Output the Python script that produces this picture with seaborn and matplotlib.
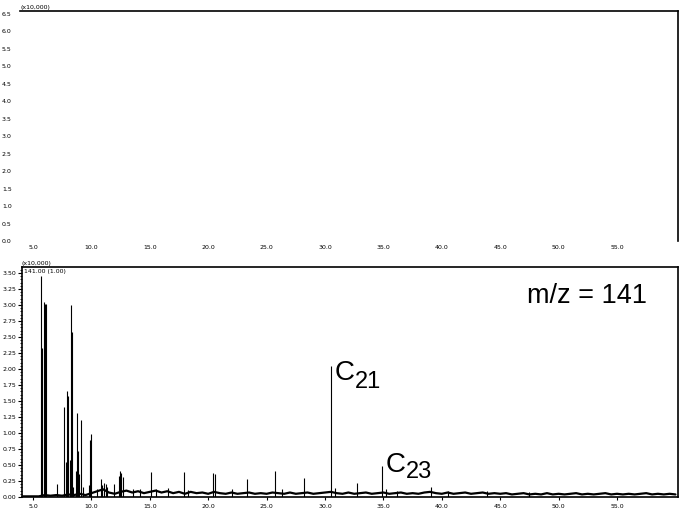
import numpy as np
import seaborn as sns
import matplotlib
matplotlib.use("Agg")
import matplotlib.pyplot as plt
from matplotlib.ticker import MultipleLocator, FormatStrFormatter

# retention time (min) and intensity (x10,000) of the resolved peaks, m/z = 141
peak_times = [5.69, 5.78, 5.98, 6.04, 6.10, 7.02, 7.68, 7.80, 7.94, 8.03,
              8.17, 8.26, 8.37, 8.46, 8.69, 8.78, 8.86, 8.98, 9.15, 9.27,
              9.78, 9.84, 9.93, 10.45, 10.82, 10.95, 11.10, 11.22, 11.35, 11.90,
              12.35, 12.45, 12.55, 12.67, 13.6, 14.2, 15.14, 15.5, 16.6, 17.91,
              18.3, 20.43, 20.60, 22.0, 23.29, 25.71, 26.3, 28.22, 30.50, 30.85,
              32.78, 34.88, 35.2, 36.2, 39.05, 40.5, 43.86, 47.5]
peak_heights = [3.46, 2.33, 3.04, 3.02, 3.01, 0.20, 1.40, 0.55, 1.66, 1.58,
                0.58, 3.00, 2.58, 0.15, 0.40, 1.31, 0.72, 0.36, 1.21, 0.15,
                0.19, 0.89, 0.99, 0.12, 0.28, 0.18, 0.22, 0.20, 0.16, 0.20,
                0.33, 0.40, 0.38, 0.32, 0.12, 0.12, 0.39, 0.12, 0.14, 0.39,
                0.11, 0.37, 0.36, 0.12, 0.28, 0.41, 0.12, 0.30, 2.05, 0.14,
                0.22, 0.48, 0.12, 0.10, 0.16, 0.10, 0.10, 0.08]

# baseline trace, 4.0 to 60.0 min every 0.5 min
baseline_y = [0.01, 0.01, 0.01, 0.01,
              0.03, 0.02, 0.03, 0.02, 0.04, 0.03, 0.05, 0.03,
              0.06, 0.09, 0.12, 0.07, 0.05, 0.08, 0.10, 0.07, 0.09, 0.06,
              0.08, 0.10, 0.07, 0.09, 0.06, 0.08, 0.05, 0.08, 0.06, 0.07,
              0.05, 0.08, 0.06, 0.05, 0.07, 0.05, 0.06, 0.07, 0.05, 0.06,
              0.05, 0.07, 0.06, 0.05, 0.07, 0.05, 0.06, 0.07, 0.05, 0.06,
              0.07, 0.08, 0.06, 0.05, 0.07, 0.05, 0.06, 0.07, 0.05, 0.06,
              0.07, 0.05, 0.06, 0.07, 0.05, 0.06, 0.05, 0.07, 0.08, 0.06,
              0.05, 0.07, 0.05, 0.06, 0.07, 0.05, 0.06, 0.07, 0.05, 0.06,
              0.05, 0.06, 0.04, 0.05, 0.06, 0.04, 0.05, 0.04, 0.06, 0.04,
              0.05, 0.04, 0.05, 0.06, 0.04, 0.05, 0.04, 0.05, 0.06, 0.04,
              0.05, 0.04, 0.05, 0.04, 0.05, 0.06, 0.04, 0.05, 0.04, 0.05,
              0.04]
baseline_t = np.linspace(4.0, 60.0, len(baseline_y))

sns.set_theme(style="white")
plt.rcParams["font.family"] = ["DejaVu Sans"]
plt.rcParams["text.color"] = "black"
plt.rcParams["xtick.color"] = "black"
plt.rcParams["ytick.color"] = "black"

fig = plt.figure(figsize=(6.83, 5.13), dpi=100)

# upper (empty) trace
ax1 = fig.add_axes([0.0293, 0.5302, 0.9634, 0.4489])
ax1.set_xlim(3.89, 60.22)
ax1.set_ylim(0, 6.58)
ax1.yaxis.set_major_locator(MultipleLocator(0.5))
ax1.yaxis.set_major_formatter(FormatStrFormatter("%.1f"))
ax1.set_xticks(np.arange(5, 56, 5))
ax1.xaxis.set_major_formatter(FormatStrFormatter("%.1f"))
for s in ["left", "bottom"]:
    ax1.spines[s].set_visible(False)
for s in ["top", "right"]:
    ax1.spines[s].set_color("black")
    ax1.spines[s].set_linewidth(1.2)
ax1.tick_params(axis="both", length=0, labelsize=4.5, labelcolor="black")
ax1.tick_params(axis="y", pad=6)
ax1.tick_params(axis="x", pad=3)
ax1.text(0.0, 1.004, "(x10,000)", transform=ax1.transAxes, fontsize=4.5,
         ha="left", va="bottom")

# lower trace, m/z 141
ax2 = fig.add_axes([0.0322, 0.0312, 0.9605, 0.4483])
ax2.vlines(peak_times, 0, peak_heights, color="black", linewidth=0.8)
sns.lineplot(x=baseline_t, y=baseline_y, ax=ax2, color="black", linewidth=1.6)
ax2.set_xlim(4.06, 60.22)
ax2.set_ylim(0, 3.594)
ax2.set_xticks(np.arange(5, 56, 5))
ax2.xaxis.set_major_formatter(FormatStrFormatter("%.1f"))
ax2.yaxis.set_major_locator(MultipleLocator(0.25))
ax2.yaxis.set_minor_locator(MultipleLocator(0.05))
ax2.yaxis.set_major_formatter(FormatStrFormatter("%.2f"))
for s in ax2.spines.values():
    s.set_color("black")
    s.set_linewidth(1.2)
ax2.tick_params(axis="y", which="major", direction="out", length=3, width=0.8,
                labelsize=4.5, pad=1, left=True, labelcolor="black")
ax2.tick_params(axis="y", which="minor", direction="out", length=1.5, width=0.6,
                left=True)
ax2.tick_params(axis="x", which="major", direction="out", length=2, width=0.8,
                labelsize=4.5, pad=3, bottom=True, labelcolor="black")
ax2.text(0.0, 1.004, "(x10,000)", transform=ax2.transAxes, fontsize=4.5,
         ha="left", va="bottom")
ax2.text(0.003, 0.993, "141.00 (1.00)", transform=ax2.transAxes, fontsize=4.5,
         ha="left", va="top")

ann = ["Liberation Sans", "DejaVu Sans"]
ax2.text(0.770, 0.843, "m/z = 141", transform=ax2.transAxes, fontsize=19.5,
         family=ann, ha="left", va="baseline", color="black")

# carbon number labels next to their peaks
i21 = peak_times.index(30.50)
i23 = peak_times.index(34.88)
for i, base, sub, up_c, up_s in [(i21, "C", "21", 4, -4), (i23, "C", "23", 10, 4)]:
    xy = (peak_times[i], peak_heights[i])
    ax2.annotate(base, xy=xy, xytext=(2.5, up_c), textcoords="offset points",
                 fontsize=20, family=ann, ha="left", va="top", color="black")
    ax2.annotate(sub, xy=xy, xytext=(17, up_s), textcoords="offset points",
                 fontsize=17, family=ann, ha="left", va="top", color="black")

fig.savefig("out.png", dpi=100)
